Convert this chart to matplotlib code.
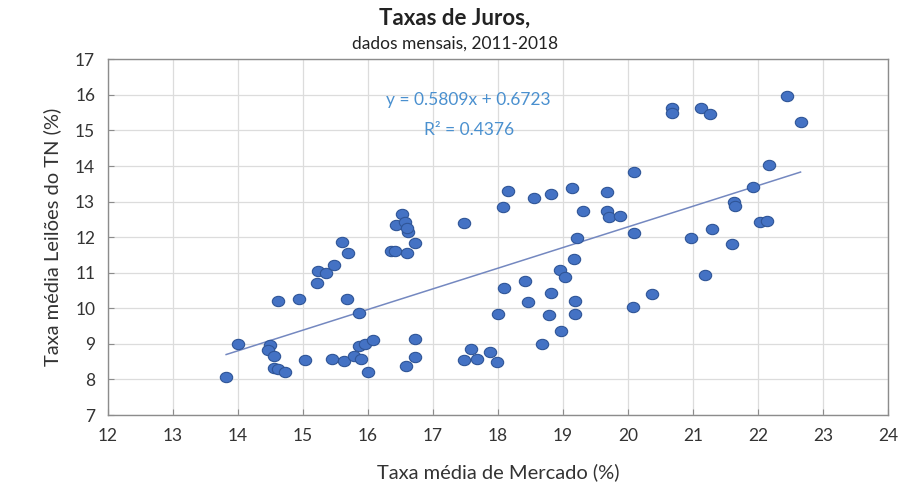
import matplotlib
matplotlib.use('Agg')
import matplotlib.pyplot as plt
from matplotlib.markers import MarkerStyle
from matplotlib.transforms import Affine2D
import numpy as np

plt.rcParams['font.family'] = ['Lato', 'DejaVu Sans']

# Taxa media de Mercado (%) vs Taxa media Leiloes do TN (%), monthly 2011-2018
mercado = [13.82, 14.00, 14.49, 14.47, 14.55, 14.55, 14.62, 14.73, 14.62, 14.94,
           15.03, 15.22, 15.23, 15.35, 15.48, 15.60, 15.70, 15.68, 15.87, 15.45,
           15.63, 15.78, 15.89, 15.87, 15.96, 16.08, 16.00, 16.35, 16.42, 16.60,
           16.43, 16.53, 16.57, 16.62, 16.60, 16.73, 16.58, 16.73, 16.73,
           17.47, 18.15, 18.07, 18.56, 18.82, 19.14, 19.30, 19.68, 19.67, 19.70,
           19.88, 20.09, 20.09, 19.22, 19.17, 18.96, 19.03, 18.42, 18.09, 18.82,
           18.46, 19.18, 18.00, 18.79, 19.18, 18.97, 20.08, 18.68, 17.58, 17.48,
           17.67, 17.88, 17.98,
           20.67, 20.67, 21.12, 21.26, 22.44, 22.65, 22.16, 21.92, 21.63, 21.65,
           21.29, 20.97, 21.60, 22.02, 22.13, 21.18, 20.36]
leiloes = [8.08, 9.00, 8.96, 8.82, 8.66, 8.32, 8.28, 8.21, 10.21, 10.27,
           8.54, 10.70, 11.04, 10.98, 11.21, 11.85, 11.56, 10.27, 9.87, 8.58,
           8.52, 8.66, 8.58, 8.93, 9.00, 9.10, 8.21, 11.60, 11.62, 11.56,
           12.34, 12.65, 12.43, 12.15, 12.25, 11.84, 8.38, 9.15, 8.63,
           12.41, 13.30, 12.85, 13.11, 13.20, 13.39, 12.74, 13.28, 12.74, 12.57,
           12.59, 13.84, 12.12, 11.99, 11.40, 11.09, 10.87, 10.77, 10.58, 10.44,
           10.18, 10.21, 9.83, 9.80, 9.85, 9.36, 10.04, 9.00, 8.87, 8.54,
           8.58, 8.77, 8.48,
           15.64, 15.49, 15.62, 15.46, 15.97, 15.23, 14.03, 13.40, 13.00, 12.88,
           12.24, 11.99, 11.80, 12.43, 12.45, 10.95, 10.41]

slope = 0.5809
intercept = 0.6723
r2 = 0.4376

fig = plt.figure(figsize=(9.13, 4.9), dpi=100)
ax = fig.add_axes([0.118, 0.153, 0.855, 0.726])

# slightly wide dots like the Excel markers
dot = MarkerStyle('o', transform=Affine2D().scale(1.2, 1.0))
ax.scatter(mercado, leiloes, s=55, marker=dot, color='#4472C4', edgecolor='#2F5597',
           linewidth=0.8, zorder=3)

# linear trendline over the data range
xt = np.array([min(mercado), max(mercado)])
ax.plot(xt, slope * xt + intercept, color='#7488C0', linewidth=1.1, zorder=2)

ax.text(17.55, 15.86, f'y = {slope}x + {intercept}', color='#4A90CF',
        fontsize=12.5, ha='center', va='center')
ax.text(17.55, 15.02, f'R² = {r2}', color='#4A90CF',
        fontsize=12.5, ha='center', va='center')

ax.set_xlim(12, 24)
ax.set_ylim(7, 17)
ax.set_xticks(range(12, 25))
ax.set_yticks(range(7, 18))
ax.grid(True, color='#dcdcdc', linewidth=0.9)
ax.set_axisbelow(True)
for s in ax.spines.values():
    s.set_color('#8c8c8c')
    s.set_linewidth(1.0)
ax.tick_params(direction='in', length=4, color='#8c8c8c', labelsize=12.5,
               labelcolor='#333333', pad=9)

ax.set_xlabel('Taxa média de Mercado (%)', fontsize=14.5, color='#333333', labelpad=14)
ax.set_ylabel('Taxa média Leilões do TN (%)', fontsize=14.5, color='#333333', labelpad=10)

fig.text(0.498, 0.962, 'Taxas de Juros,', fontsize=16, fontweight='bold',
         ha='center', va='center', color='#222222')
fig.text(0.498, 0.91, 'dados mensais, 2011-2018', fontsize=12.5,
         ha='center', va='center', color='#222222')

fig.savefig('out.png', dpi=100)
